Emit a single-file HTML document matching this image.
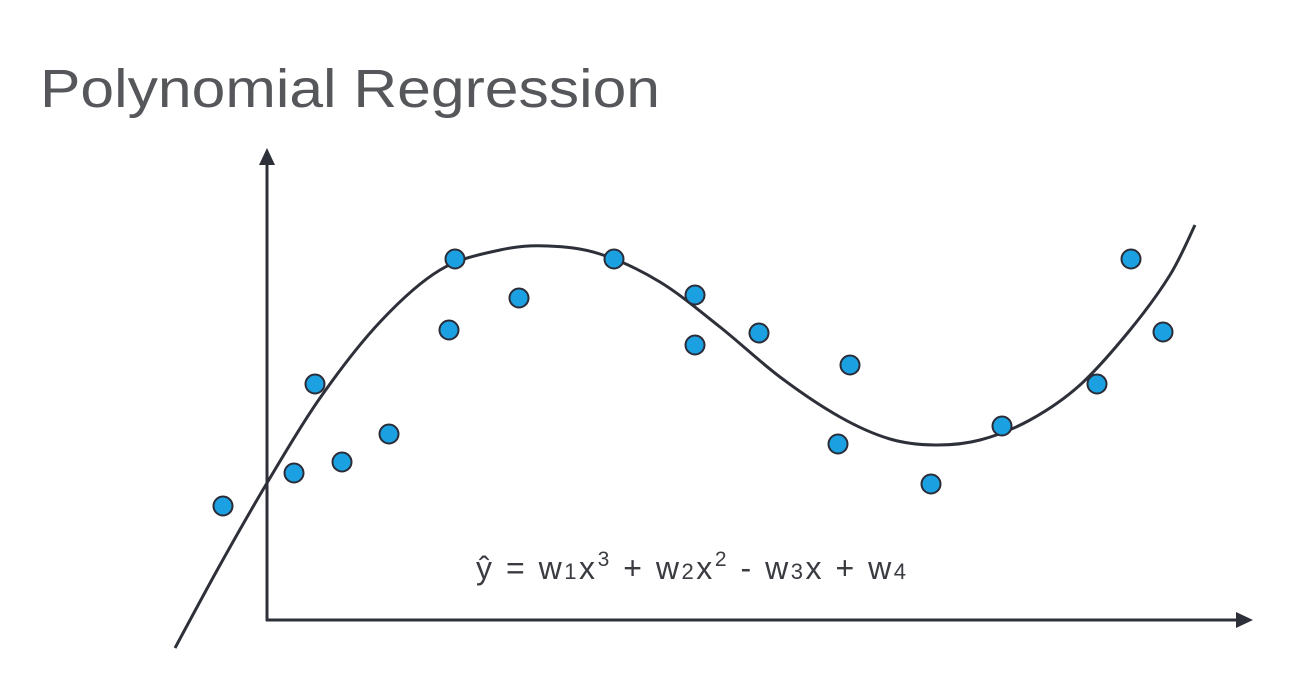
<!DOCTYPE html>
<html><head><meta charset="utf-8"><style>
html,body{margin:0;padding:0;background:#fff;width:1316px;height:691px;overflow:hidden}
svg{display:block}
</style></head><body>
<svg id="chart" width="1316" height="691" viewBox="0 0 1316 691" xmlns="http://www.w3.org/2000/svg">
<text x="40" y="107" font-family="Liberation Sans, sans-serif" font-size="54" fill="#55575b" textLength="620" lengthAdjust="spacingAndGlyphs">Polynomial Regression</text>
<g id="axes">
<line x1="267" y1="621" x2="267" y2="160" stroke="#2e3039" stroke-width="3"/>
<polygon points="267,148 259,165 275,165" fill="#2e3039"/>
<line x1="266" y1="620" x2="1240" y2="620" stroke="#2e3039" stroke-width="3"/>
<polygon points="1253,620 1236,612 1236,628" fill="#2e3039"/>
</g>
<g id="curve-layer"></g>
<g id="points-layer"></g>
<text x="476" y="579" font-family="Liberation Sans, sans-serif" font-size="32" fill="#3a3c42" textLength="430" lengthAdjust="spacing">ŷ = w<tspan font-size="22">1</tspan>x<tspan font-size="21" dy="-13">3</tspan><tspan dy="13"> + w</tspan><tspan font-size="22">2</tspan>x<tspan font-size="21" dy="-13">2</tspan><tspan dy="13"> - w</tspan><tspan font-size="22">3</tspan>x + w<tspan font-size="22">4</tspan></text>
</svg>
<script>
const pointX = [-44,27,48,75,122,182,188,252,347,428,428,492,571,583,664,735,830,864,896];
const pointY = [114,147,236,158,186,290,361,322,361,325,275,287,176,255,136,194,236,361,288];
const curveX = [-92,-47,0,53,113,173,233,281,333,393,453,513,573,623,668,713,763,813,863,903,928];
const curveY = [-28,55,137,222,298,350,370,374,366,338,293,243,203,181,175,180,200,235,290,345,395];
const xScale = v => 267 + v;
const yScale = v => 620 - v;
const NS = "http://www.w3.org/2000/svg";
const cl = document.getElementById('curve-layer');
const pl = document.getElementById('points-layer');
const P = curveX.map((x,i)=>[xScale(x), yScale(curveY[i])]);
let d = `M${P[0][0]},${P[0][1]}`;
for (let i=0;i<P.length-1;i++){
  const p0=P[Math.max(i-1,0)],p1=P[i],p2=P[i+1],p3=P[Math.min(i+2,P.length-1)];
  const c1=[p1[0]+(p2[0]-p0[0])/6,p1[1]+(p2[1]-p0[1])/6];
  const c2=[p2[0]-(p3[0]-p1[0])/6,p2[1]-(p3[1]-p1[1])/6];
  d+=` C${c1[0]},${c1[1]} ${c2[0]},${c2[1]} ${p2[0]},${p2[1]}`;
}
const path=document.createElementNS(NS,'path');
path.setAttribute('d',d);
path.setAttribute('fill','none');
path.setAttribute('stroke','#2e3039');
path.setAttribute('stroke-width','3');


cl.appendChild(path);
pointX.forEach((x,i)=>{
  const c=document.createElementNS(NS,'circle');
  c.setAttribute('cx',xScale(x));
  c.setAttribute('cy',yScale(pointY[i]));
  c.setAttribute('r','9.5');
  c.setAttribute('fill','#1ba1e2');
  c.setAttribute('stroke','#2a2d38');
  c.setAttribute('stroke-width','2');
  
  
  pl.appendChild(c);
});
</script>
</body></html>
